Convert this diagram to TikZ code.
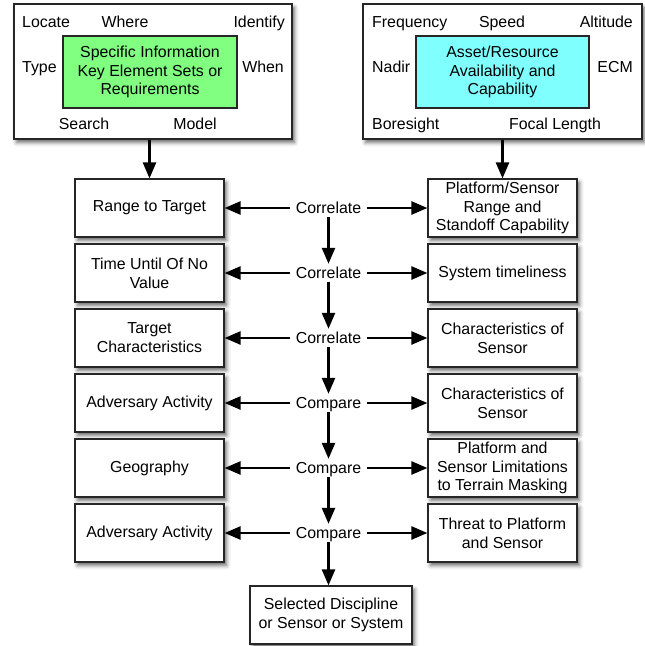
\documentclass[tikz,border=0pt]{standalone}
\usepackage{fontspec}
\setmainfont{Liberation Sans}
\usetikzlibrary{arrows.meta,shadows.blur}
\begin{document}
\begin{tikzpicture}[x=1pt,y=-1pt,
  every node/.style={font=\fontsize{15.9}{18.8}\selectfont},
  framed/.style={draw=black!85, line width=1.2pt, fill=white,
    blur shadow={shadow xshift=2.5pt, shadow yshift=-3.5pt,
      shadow blur radius=4pt, shadow opacity=60}},
  panel/.style={framed, minimum width=278pt, minimum height=135pt},
  core/.style={draw=black!85, line width=1.2pt, minimum width=174pt,
    minimum height=72pt, align=center, inner sep=0pt},
  item/.style={framed, minimum width=149pt, minimum height=58pt,
    align=center, inner sep=0pt},
  word/.style={inner sep=0pt},
  verb/.style={inner xsep=5.5pt, inner ysep=3.5pt, text height=11pt,
    text depth=0pt},
  conn/.style={line width=2.5pt, -{Triangle[length=16pt,width=13pt]}}]

\useasboundingbox (0,0) rectangle (645,646);

% ---- information requirements panel ----
\node[panel] (req) at (153,71.5) {};
\node[core, fill={rgb,255:red,128;green,255;blue,128}] (kes) at (150,72)
  {Specific Information\\Key Element Sets or\\Requirements};
\node[word, anchor=base west] (locate) at (22,27) {Locate};
\node[word, anchor=base] (where) at (125,27) {Where};
\node[word, anchor=base east] (identify) at (285,27) {Identify};
\node[word, anchor=base west] (type) at (22,72) {Type};
\node[word, anchor=base east] (when) at (284,72) {When};
\node[word, anchor=base] (search) at (84,129) {Search};
\node[word, anchor=base] (model) at (195,129) {Model};

% ---- asset capability panel ----
\node[panel, minimum width=279pt] (asset) at (502.5,71.5) {};
\node[core, minimum width=173pt, fill={rgb,255:red,128;green,255;blue,255}] (avail) at (502.5,72)
  {Asset/Resource\\Availability and\\Capability};
\node[word, anchor=base west] (freq) at (372,27) {Frequency};
\node[word, anchor=base] (speed) at (502,27) {Speed};
\node[word, anchor=base east] (alt) at (633,27) {Altitude};
\node[word, anchor=base west] (nadir) at (372,72) {Nadir};
\node[word, anchor=base east] (ecm) at (633,72) {ECM};
\node[word, anchor=base west] (bore) at (372,129) {Boresight};
\node[word, anchor=base] (focal) at (555,129) {Focal Length};

% ---- requirement side ----
\node[item] (l1) at (149.5,208) {Range to Target};
\node[item] (l2) at (149.5,273) {Time Until Of No\\Value};
\node[item] (l3) at (149.5,338) {Target\\Characteristics};
\node[item] (l4) at (149.5,403) {Adversary Activity};
\node[item] (l5) at (149.5,468) {Geography};
\node[item] (l6) at (149.5,533) {Adversary Activity};

% ---- capability side ----
\node[item] (r1) at (502.5,208) {Platform/Sensor\\Range and\\Standoff Capability};
\node[item] (r2) at (502.5,273) {System timeliness};
\node[item] (r3) at (502.5,338) {Characteristics of\\Sensor};
\node[item] (r4) at (502.5,403) {Characteristics of\\Sensor};
\node[item] (r5) at (502.5,468) {Platform and\\Sensor Limitations\\to Terrain Masking};
\node[item] (r6) at (502.5,533) {Threat to Platform\\and Sensor};

% ---- operations ----
\node[verb] (c1) at (328.5,208) {Correlate};
\node[verb] (c2) at (328.5,273) {Correlate};
\node[verb] (c3) at (328.5,338) {Correlate};
\node[verb] (c4) at (328.5,403) {Compare};
\node[verb] (c5) at (328.5,468) {Compare};
\node[verb] (c6) at (328.5,533) {Compare};

% ---- result ----
\node[item, minimum width=162pt] (out) at (331,615) {Selected Discipline\\or Sensor or System};

% ---- connectors ----
\draw[conn] (l1.north |- req.south) -- (l1.north);
\draw[conn] (r1.north |- asset.south) -- (r1.north);
\foreach \i in {1,...,6} {
  \draw[conn] (c\i.west) -- (l\i.east);
  \draw[conn] (c\i.east) -- (r\i.west);
}
\draw[conn] (c1.south) -- (c2.north);
\draw[conn] (c2.south) -- (c3.north);
\draw[conn] (c3.south) -- (c4.north);
\draw[conn] (c4.south) -- (c5.north);
\draw[conn] (c5.south) -- (c6.north);
\draw[conn] (c6.south) -- (c6.south |- out.north);
\end{tikzpicture}
\end{document}
